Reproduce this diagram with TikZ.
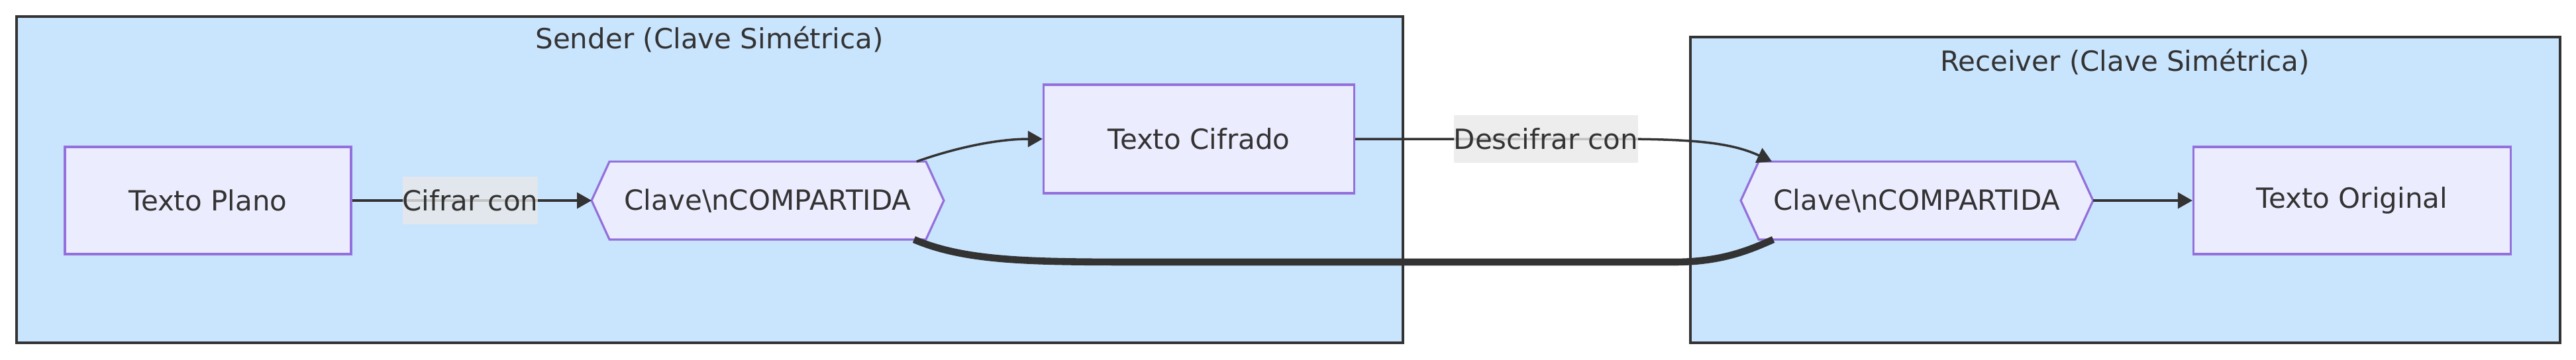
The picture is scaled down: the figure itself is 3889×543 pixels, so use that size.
\documentclass[tikz,border=0pt]{standalone}
\usepackage{fontspec}
\setmainfont{DejaVu Sans}
\usetikzlibrary{arrows.meta}
\pgfdeclarelayer{bglow}
\pgfdeclarelayer{bg}
\pgfsetlayers{bglow,bg,main}
\definecolor{clfill}{HTML}{C9E4FD}
\definecolor{clline}{HTML}{333333}
\definecolor{ndfill}{HTML}{ECECFF}
\definecolor{ndline}{HTML}{9370DB}
\definecolor{lblfill}{HTML}{E8E8E8}
\definecolor{txt}{HTML}{333333}
\begin{document}
\begin{tikzpicture}[x=0.5pt,y=-0.5pt,
  every node/.style={font=\fontsize{21}{25}\selectfont, text=txt},
  cluster/.style={draw=clline, fill=clfill, line width=1.9pt},
  boxnode/.style={draw=ndline, fill=ndfill, line width=1.6pt, inner sep=0pt},
  hexnode/.style={inner sep=0pt, minimum width=238.5pt, minimum height=58.5pt},
  hexline/.style={draw=ndline, fill=ndfill, line width=1.6pt, line join=miter},
  edge/.style={draw=clline, line width=1.75pt, -{Triangle[length=11pt,width=12pt]}},
  thickedge/.style={draw=clline, line width=5.3pt},
  lbl/.style={fill=lblfill, fill opacity=0.8, text opacity=1, inner sep=0pt, minimum height=36pt},
  title/.style={}]
\useasboundingbox (0,0) rectangle (3889,543);
% clusters
\begin{pgfonlayer}{bglow}
\path[cluster] (25,25) rectangle (2118,518);
\path[cluster] (2552,56) rectangle (3865,518);
\end{pgfonlayer}
\node[title] (ts) at (1071,59) {Sender (Clave Simétrica)};
\node[title] (tr) at (3208,93) {Receiver (Clave Simétrica)};
% nodes
\node[boxnode, minimum width=216pt, minimum height=81pt] (tp) at (314,303) {Texto Plano};
\node[hexnode] (k1) at (1159,303) {Clave\textbackslash nCOMPARTIDA};
\node[boxnode, minimum width=234.5pt, minimum height=82pt] (tc) at (1810,210) {Texto Cifrado};
\node[hexnode] (k2) at (2894,303) {Clave\textbackslash nCOMPARTIDA};
\node[boxnode, minimum width=239.5pt, minimum height=81pt] (to) at (3551,303) {Texto Original};
\coordinate (k1w) at ([xshift=-13.5pt]k1.west);
\coordinate (k1e) at ([xshift=13.5pt]k1.east);
\coordinate (k2w) at ([xshift=-13.5pt]k2.west);
\coordinate (k2e) at ([xshift=13.5pt]k2.east);
\begin{pgfonlayer}{bg}
\path[hexline] (k1.north west) -- (k1.north east) -- (k1e) -- (k1.south east) -- (k1.south west) -- (k1w) -- cycle;
\path[hexline] (k2.north west) -- (k2.north east) -- (k2e) -- (k2.south east) -- (k2.south west) -- (k2w) -- cycle;
\end{pgfonlayer}
% edges
\path[edge] (tp.east) -- (k1w);
\path[edge] ([xshift=-7pt]k1.north east) .. controls +(56,-20) and +(-70,0) .. (tc.west);
\coordinate (d1) at (2440,210);
\path[edge] (tc.east) -- (d1) .. controls +(120,0) and +(-60,-28) .. ([xshift=10pt]k2.north west);
\coordinate (t1) at (1739,396);
\coordinate (t2) at (2527,396);
\path[thickedge] ([xshift=-9pt]k1.south east) .. controls +(80,34) and +(-180,0) .. (t1) -- (t2) .. controls +(72,0) and +(-36,16) .. ([xshift=11pt]k2.south west);
\path[edge] (k2e) -- (to.west);
% labels
\node[lbl] (l1) at (710,303) {Cifrar con};
\node[lbl] (l2) at (2334,210) {Descifrar con};
\end{tikzpicture}
\end{document}
